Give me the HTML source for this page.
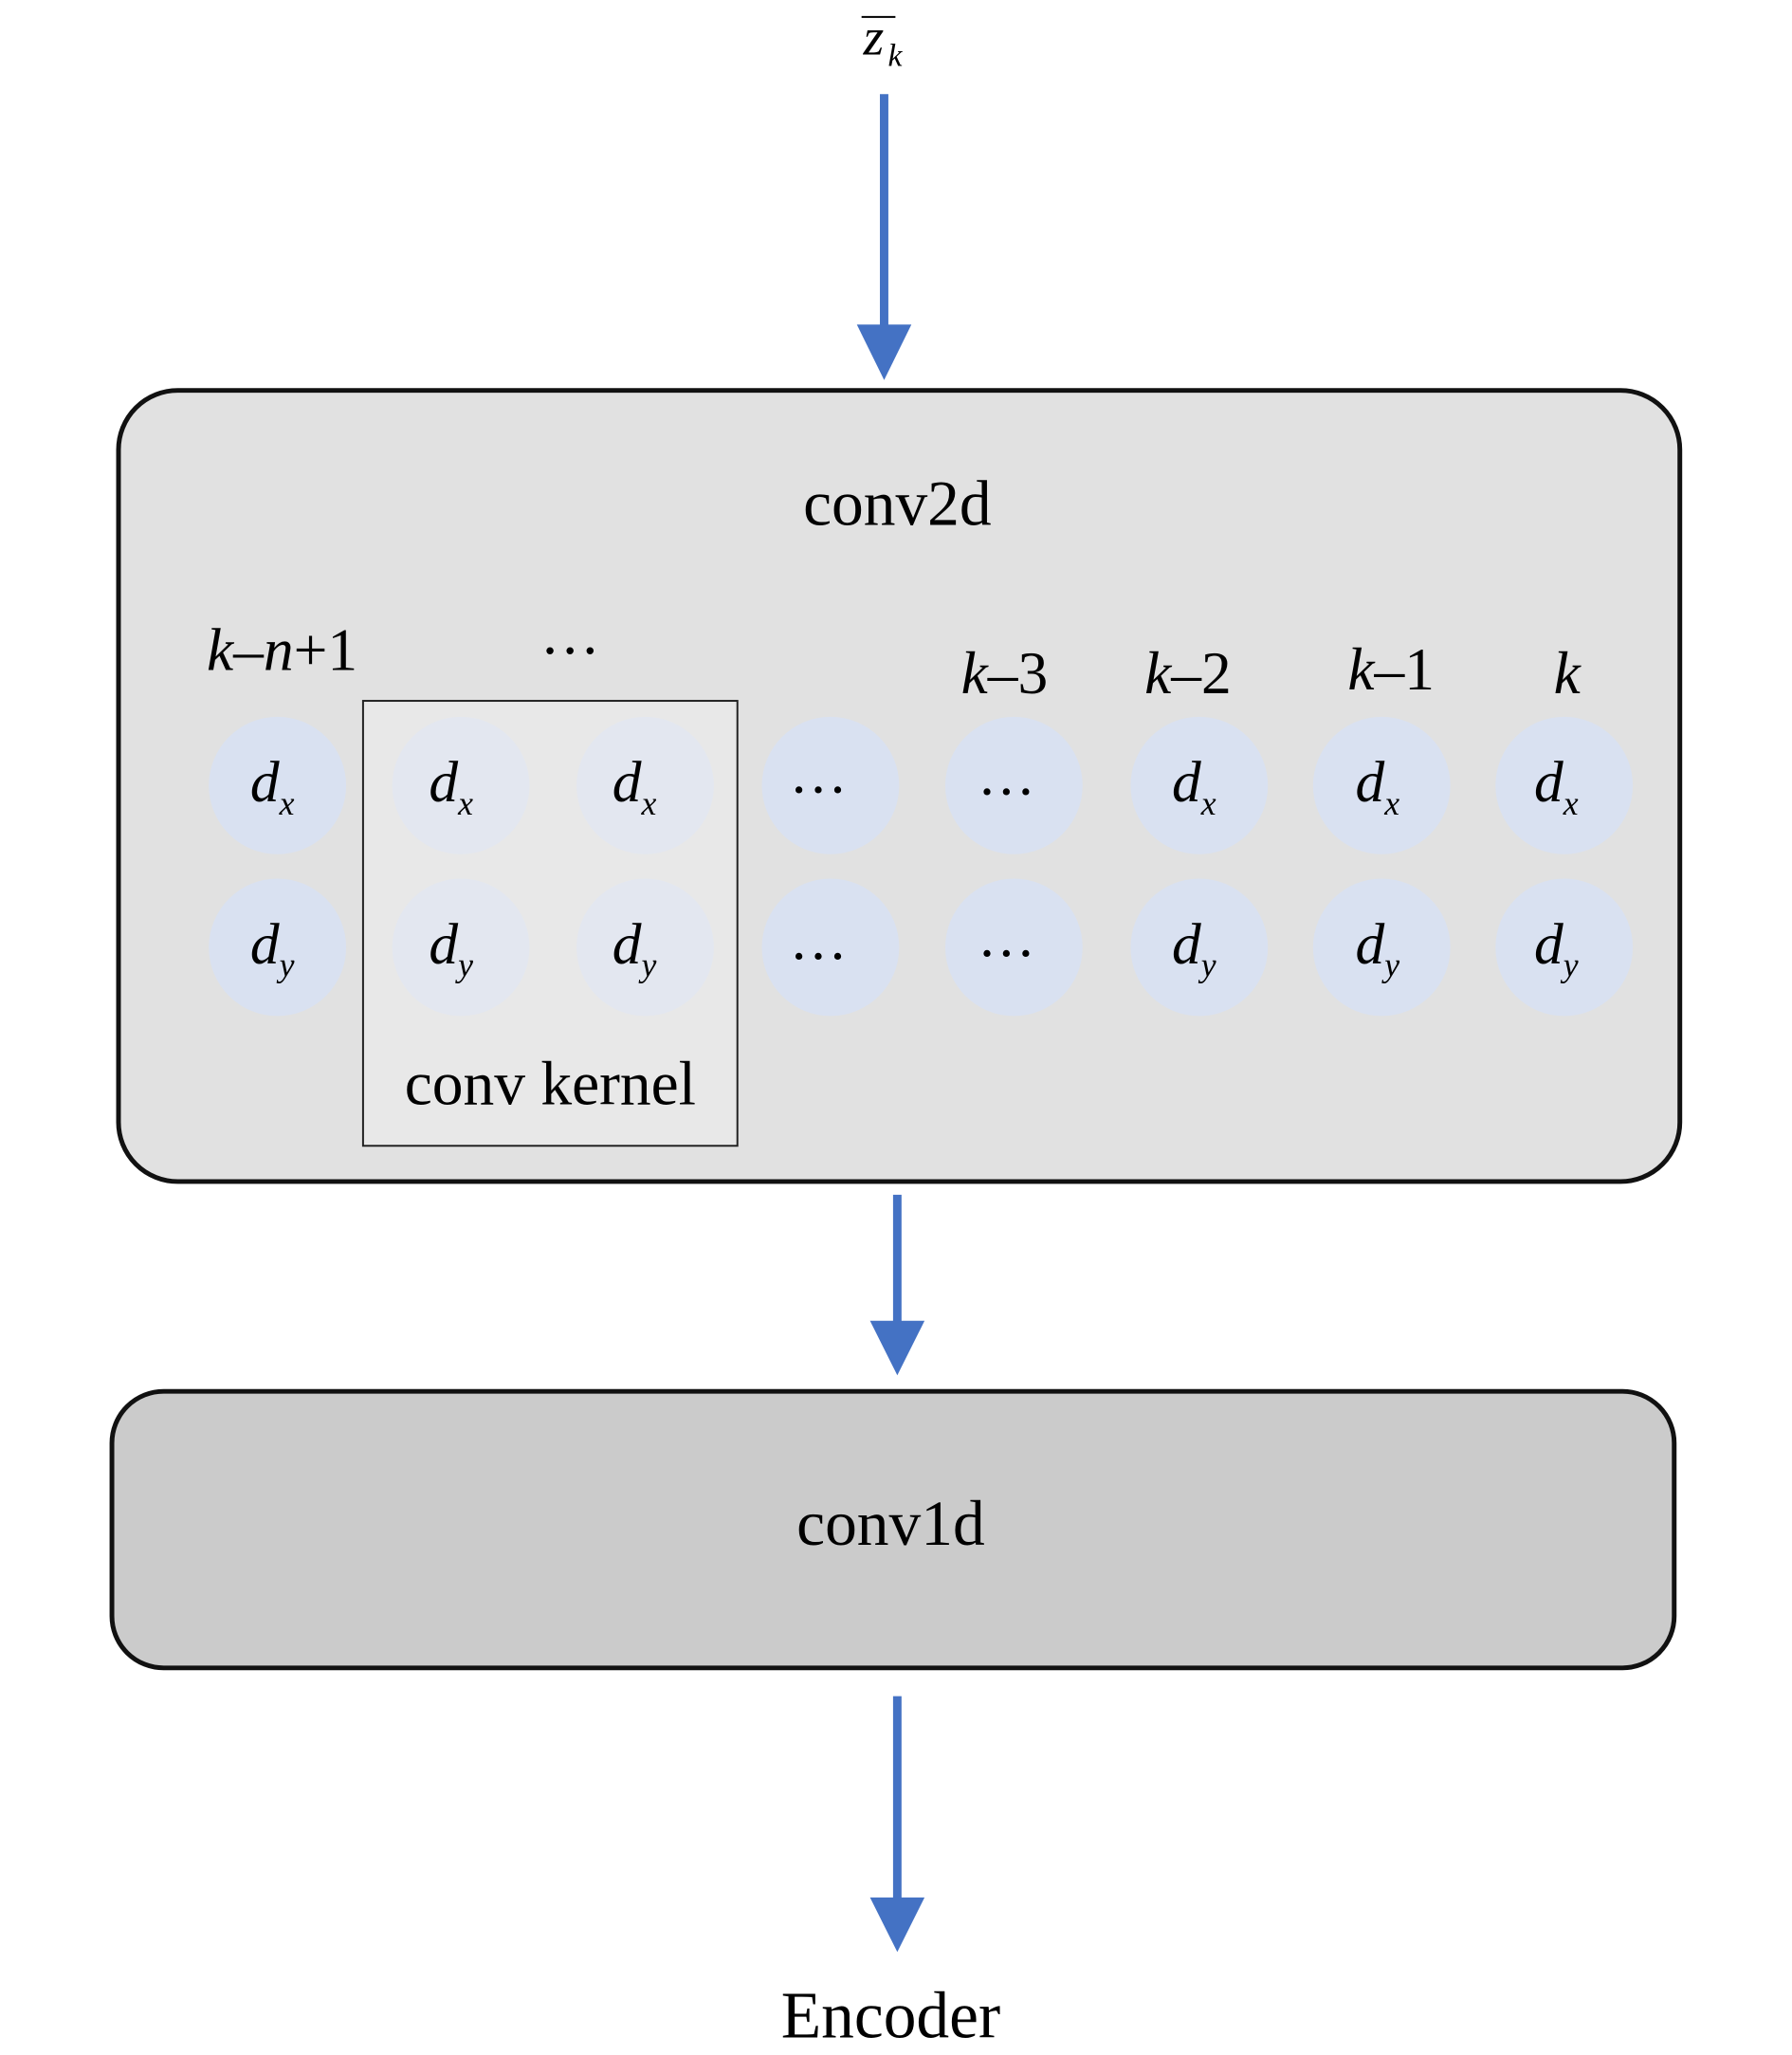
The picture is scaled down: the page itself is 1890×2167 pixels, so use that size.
<!DOCTYPE html>
<html><head><meta charset="utf-8"><style>
html,body{margin:0;padding:0;background:#fff}
svg{display:block}
text{font-family:"Liberation Serif",serif;fill:#000}
.i{font-style:italic}
</style></head><body>
<svg width="1890" height="2167" viewBox="0 0 1890 2167" xmlns="http://www.w3.org/2000/svg">
<g transform="scale(0.992)">
<line x1="916" y1="18" x2="952" y2="18" stroke="#000" stroke-width="2"/>
<text x="918" y="58" font-size="56" class="i">z</text>
<text x="944" y="70" font-size="34" class="i">k</text>
<line x1="940" y1="100" x2="940" y2="350" stroke="#4472c4" stroke-width="9"/>
<polygon points="911,345 969,345 940,404" fill="#4472c4"/>
<rect x="126" y="415" width="1660" height="841" rx="63" ry="63" fill="#e1e1e1" stroke="#111" stroke-width="5"/>
<text x="954" y="558" font-size="68" text-anchor="middle">conv2d</text>
<rect x="386" y="745" width="398" height="473" fill="#e8e8e8" stroke="#222" stroke-width="2"/>
<text x="300" y="712" font-size="64" text-anchor="middle"><tspan class="i">k</tspan>–<tspan class="i">n</tspan>+1</text>
<text x="606" y="713" font-size="64" text-anchor="middle">···</text>
<text x="1068" y="737" font-size="64" text-anchor="middle"><tspan class="i">k</tspan>–3</text>
<text x="1263" y="737" font-size="64" text-anchor="middle"><tspan class="i">k</tspan>–2</text>
<text x="1479" y="733" font-size="64" text-anchor="middle"><tspan class="i">k</tspan>–1</text>
<text x="1666" y="737" font-size="64" text-anchor="middle" class="i">k</text>
<g fill="#d9e1f1">
<circle cx="295" cy="835" r="73"/><circle cx="295" cy="1007" r="73"/>
<circle cx="883" cy="835" r="73"/><circle cx="883" cy="1007" r="73"/>
<circle cx="1078" cy="835" r="73"/><circle cx="1078" cy="1007" r="73"/>
<circle cx="1275" cy="835" r="73"/><circle cx="1275" cy="1007" r="73"/>
<circle cx="1469" cy="835" r="73"/><circle cx="1469" cy="1007" r="73"/>
<circle cx="1663" cy="835" r="73"/><circle cx="1663" cy="1007" r="73"/>
</g>
<g fill="#e3e7f0">
<circle cx="490" cy="835" r="73"/><circle cx="490" cy="1007" r="73"/>
<circle cx="686" cy="835" r="73"/><circle cx="686" cy="1007" r="73"/>
</g>
<g font-size="62">
<text x="266" y="852" class="i">d<tspan font-size="36" dy="14">x</tspan></text>
<text x="456" y="852" class="i">d<tspan font-size="36" dy="14">x</tspan></text>
<text x="651" y="852" class="i">d<tspan font-size="36" dy="14">x</tspan></text>
<text x="1246" y="852" class="i">d<tspan font-size="36" dy="14">x</tspan></text>
<text x="1441" y="852" class="i">d<tspan font-size="36" dy="14">x</tspan></text>
<text x="1631" y="852" class="i">d<tspan font-size="36" dy="14">x</tspan></text>
<text x="266" y="1024" class="i">d<tspan font-size="36" dy="14">y</tspan></text>
<text x="456" y="1024" class="i">d<tspan font-size="36" dy="14">y</tspan></text>
<text x="651" y="1024" class="i">d<tspan font-size="36" dy="14">y</tspan></text>
<text x="1246" y="1024" class="i">d<tspan font-size="36" dy="14">y</tspan></text>
<text x="1441" y="1024" class="i">d<tspan font-size="36" dy="14">y</tspan></text>
<text x="1631" y="1024" class="i">d<tspan font-size="36" dy="14">y</tspan></text>
<text x="870" y="860" text-anchor="middle">···</text>
<text x="1070" y="862" text-anchor="middle">···</text>
<text x="870" y="1037" text-anchor="middle">···</text>
<text x="1070" y="1034" text-anchor="middle">···</text>
</g>
<text x="585" y="1174" font-size="66" text-anchor="middle">conv  kernel</text>
<line x1="954" y1="1270" x2="954" y2="1410" stroke="#4472c4" stroke-width="9"/>
<polygon points="925,1404 983,1404 954,1462" fill="#4472c4"/>
<rect x="119" y="1479" width="1661" height="294" rx="55" ry="55" fill="#cbcbcb" stroke="#111" stroke-width="5"/>
<text x="947" y="1642" font-size="68" text-anchor="middle">conv1d</text>
<line x1="954" y1="1803" x2="954" y2="2022" stroke="#4472c4" stroke-width="9"/>
<polygon points="925,2017 983,2017 954,2075" fill="#4472c4"/>
<text x="947" y="2166" font-size="70" text-anchor="middle">Encoder</text>
</g>
</svg>
</body></html>
